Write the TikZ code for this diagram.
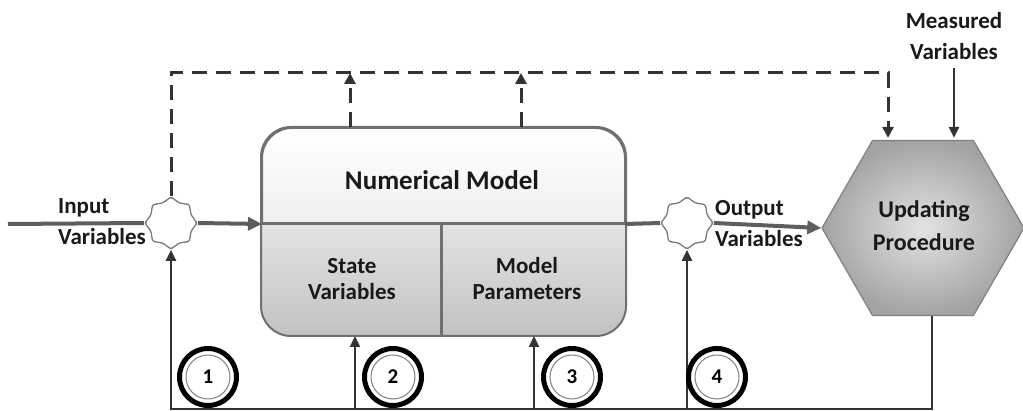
\documentclass[tikz,border=0pt]{standalone}
\usepackage{fontspec}
\setmainfont{Carlito}
\usetikzlibrary{shapes.geometric,arrows.meta}
\definecolor{arrowgray}{HTML}{5E5E5E}
\definecolor{linedark}{HTML}{333333}
\definecolor{bordergray}{HTML}{707070}
\definecolor{stargray}{HTML}{7A7A7A}
\begin{document}
\begin{tikzpicture}[x=1pt,y=-1pt,
  thickline/.style={draw=arrowgray, line width=4pt},
  thickarrow/.style={thickline, -{Triangle[length=14pt,width=13pt]}},
  thinarrow/.style={draw=linedark, line width=2.3pt, -{Triangle[length=11pt,width=10pt]}},
  dasharrow/.style={draw=linedark, line width=3pt, dash pattern=on 15pt off 9pt, -{Triangle[length=11pt,width=11pt]}},
  junction/.style={star, star points=8, star point ratio=1.2, draw=stargray, fill=white, line width=1.3pt, minimum size=52pt, inner sep=0pt, rounded corners=1.5pt},
  numc/.style={circle, draw=black, line width=5pt, minimum size=57pt, inner sep=0pt, font=\bfseries\fontsize{21}{21}\selectfont},
  lbl/.style={font=\bfseries\fontsize{23}{31}\selectfont, align=center, inner sep=0pt, text=black!90},
  lbll/.style={lbl, align=left},
  boxlbl/.style={font=\bfseries\fontsize{23}{26}\selectfont, align=center, inner sep=0pt, text=black!90},
  ring/.style={draw=gray, line width=1pt}
]
\useasboundingbox (0,0) rectangle (1023,411);

% key coordinates
\coordinate (inStart) at (8,224);
\coordinate (divL) at (262,224);
\coordinate (divR) at (625,224);
\coordinate (divM) at (441,224);
\coordinate (divB) at (441,335);
\coordinate (dTL) at (171,73);
\coordinate (dTR) at (888,73);
\coordinate (u1) at (350,73);
\coordinate (u2) at (521,73);
\coordinate (bot) at (0,409);
\coordinate (hb) at (932,409);
\coordinate (b2) at (355,409);
\coordinate (b3) at (534,409);

% numerical model box
\node[draw=bordergray, line width=2pt, rounded corners=30pt, minimum width=363pt, minimum height=207pt,
      inner sep=0pt, top color=white, bottom color=gray!26] (model) at (443.5,231.5) {};
\begin{scope}
  \clip[rounded corners=30pt] (model.south west) rectangle (model.north east);
  \shade[top color=gray!22, bottom color=gray!48] (divL) rectangle (model.south east);
\end{scope}
\draw[draw=bordergray, line width=2pt, rounded corners=30pt] (model.south west) rectangle (model.north east);
\draw[draw=bordergray, line width=3pt] (divL) -- (divR);
\draw[draw=bordergray, line width=3pt] (divM) -- (divB);

\node[font=\bfseries\fontsize{27}{30}\selectfont, inner sep=0pt, text=black!90] (title) at (442,180) {Numerical Model};
\node[boxlbl] (state) at (352,279) {State\\Variables};
\node[boxlbl] (param) at (527,279) {Model\\Parameters};

% updating procedure hexagon
\node[regular polygon, regular polygon sides=6, minimum size=202pt, inner sep=0pt,
      draw=gray, line width=1.2pt, shading=radial, inner color=gray!22, outer color=gray!72] (hex) at (923,228) {};
\node[lbl, font=\bfseries\fontsize{24}{33}\selectfont] (hexlbl) at (924,226) {Updating\\Procedure};

% junctions
\node[junction] (j1) at (171,223) {};
\node[junction] (j2) at (687,223) {};

% main flow
\draw[thickline] (inStart) -- (j1.west);
\draw[thickarrow] (j1.east) -- (divL);
\draw[thickline] (divR) -- (j2.west);
\draw[thickarrow] (j2.east) -- (hex.west);

\node[lbll, anchor=west] (inlbl) at (58,222) {Input\\Variables};
\node[lbll, anchor=west] (outlbl) at (715,224) {Output\\Variables};

% measured variables
\node[lbl] (meas) at (954,36) {Measured\\Variables};
\draw[thinarrow, shorten >=2pt] ([yshift=-8pt]meas.south) -- (meas.south |- hex.north);

% dashed feedback
\draw[dasharrow, shorten >=2pt] (j1.north) -- (dTL) -- (dTR) -- (dTR |- hex.north);
\draw[dasharrow] (u1 |- model.north) -- (u1);
\draw[dasharrow] (u2 |- model.north) -- (u2);

% bottom correction loop
\draw[thinarrow] (hb |- hex.south) -- (hb) -- (j1.south |- bot) -- (j1.south);
\draw[thinarrow] (b2) -- (b2 |- model.south);
\draw[thinarrow] (b3) -- (b3 |- model.south);
\draw[thinarrow] (j2.south |- bot) -- (j2.south);

% numbered circles
\node[numc] (n1) at (208,377) {1};
\node[numc] (n2) at (393,377) {2};
\node[numc] (n3) at (572,377) {3};
\node[numc] (n4) at (717,377) {4};
\foreach \c in {n1,n2,n3,n4} \draw[ring] (\c.center) circle (22pt);
\end{tikzpicture}
\end{document}
